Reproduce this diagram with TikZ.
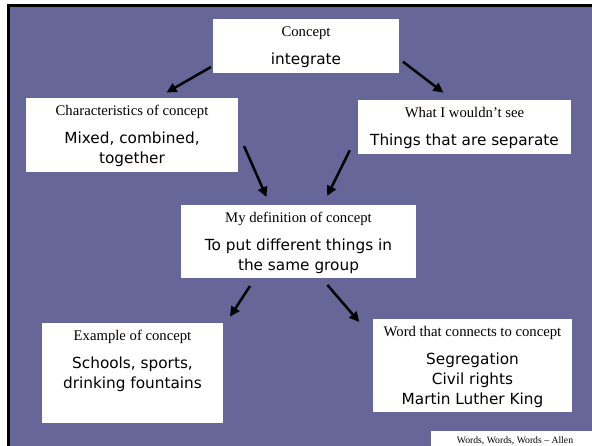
\documentclass[tikz,border=0pt]{standalone}
\usepackage{fontspec}
\setmainfont{Liberation Serif}
\newfontfamily\handfont{DejaVu Sans}
\usetikzlibrary{arrows.meta}
\definecolor{slidebg}{HTML}{666699}

\tikzset{
  box/.style={fill=white, draw=none, inner sep=0pt, outer sep=0pt},
  caption/.style={anchor=base, inner sep=0pt, font=\fontsize{14.7}{17}\selectfont},
  entry/.style={anchor=base, inner sep=0pt, font=\handfont\fontsize{15.3}{19.5}\selectfont},
  flow/.style={line width=2.5pt, -{Triangle[length=10pt,width=9.5pt]}},
}

\begin{document}
\begin{tikzpicture}[x=1pt, y=-1pt]
  \useasboundingbox (0,0) rectangle (592,446);
  % slide background with its black edge
  \fill[black] (7,4.5) rectangle (592,446);
  \fill[slidebg] (9.5,7) rectangle (592,446);

  % boxes
  \node[box, minimum width=186pt, minimum height=54pt] (concept) at (306,46) {};
  \node[box, minimum width=212pt, minimum height=74pt] (chars) at (132,135) {};
  \node[box, minimum width=213pt, minimum height=54pt] (notsee) at (464.5,127) {};
  \node[box, minimum width=235pt, minimum height=73pt] (defn) at (298.5,241.5) {};
  \node[box, minimum width=181pt, minimum height=100pt] (example) at (132.5,373) {};
  \node[box, minimum width=199pt, minimum height=93pt] (words) at (472.5,365.5) {};

  % texts
  \node[caption] (conceptT) at ([yshift=-17.5pt]concept.north) {Concept};
  \node[entry] (conceptA) at ([yshift=-46pt]concept.north) {integrate};

  \node[caption] (charsT) at ([yshift=-17.5pt]chars.north) {Characteristics of concept};
  \node[entry] (charsA) at ([yshift=-46pt]chars.north) {Mixed, combined,};
  \node[entry] (charsB) at ([yshift=-65.5pt]chars.north) {together};

  \node[caption] (notseeT) at ([yshift=-17.5pt]notsee.north) {What I wouldn’t see};
  \node[entry] (notseeA) at ([yshift=-46pt]notsee.north) {Things that are separate};

  \node[caption] (defnT) at ([yshift=-17.5pt]defn.north) {My definition of concept};
  \node[entry] (defnA) at ([yshift=-46pt]defn.north) {To put different things in};
  \node[entry] (defnB) at ([yshift=-65.5pt]defn.north) {the same group};

  \node[caption] (exampleT) at ([yshift=-17.5pt]example.north) {Example of concept};
  \node[entry] (exampleA) at ([yshift=-46pt]example.north) {Schools, sports,};
  \node[entry] (exampleB) at ([yshift=-65.5pt]example.north) {drinking fountains};

  \node[caption] (wordsT) at ([yshift=-17.5pt]words.north) {Word that connects to concept};
  \node[entry] (wordsA) at ([yshift=-46pt]words.north) {Segregation};
  \node[entry] (wordsB) at ([yshift=-65.5pt]words.north) {Civil rights};
  \node[entry] (wordsC) at ([yshift=-85pt]words.north) {Martin Luther King};

  % arrow end points
  \coordinate (a1s) at (211,67);    \coordinate (a1e) at (166.5,92.5);
  \coordinate (a2s) at (403,61.7);  \coordinate (a2e) at (443.4,92.7);
  \coordinate (a3s) at (244,146);   \coordinate (a3e) at (266.5,197);
  \coordinate (a4s) at (349.8,150.3); \coordinate (a4e) at (327.2,196);
  \coordinate (a5s) at (250,286);   \coordinate (a5e) at (230,316.7);
  \coordinate (a6s) at (327.4,285); \coordinate (a6e) at (359.3,322);

  \draw[flow] (a1s) -- (a1e);
  \draw[flow] (a2s) -- (a2e);
  \draw[flow] (a3s) -- (a3e);
  \draw[flow] (a4s) -- (a4e);
  \draw[flow] (a5s) -- (a5e);
  \draw[flow] (a6s) -- (a6e);

  % footer
  \node[box, minimum width=161pt, minimum height=15pt] (footer) at (511.5,438.5) {};
  \node[anchor=base, inner sep=0pt, font=\fontsize{9.7}{11}\selectfont] (footerT) at (515,443.5) {Words, Words, Words – Allen};
\end{tikzpicture}
\end{document}
